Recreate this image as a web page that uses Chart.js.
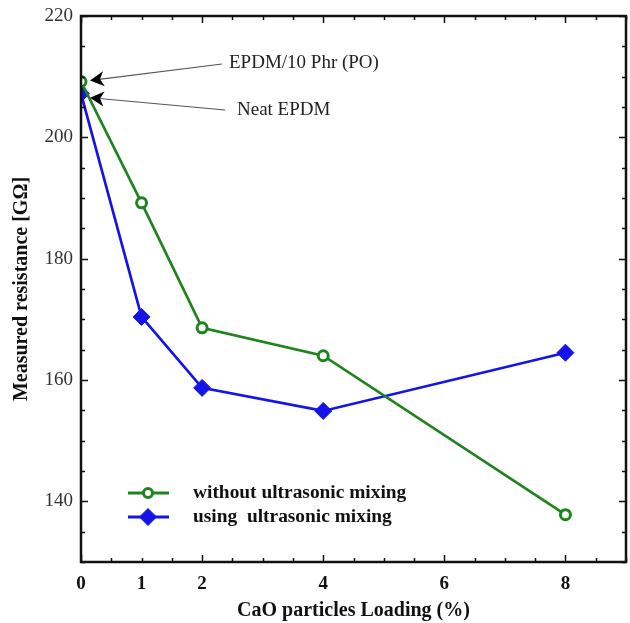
<!DOCTYPE html>
<html>
<head>
<meta charset="utf-8">
<script src="https://cdn.jsdelivr.net/npm/chart.js@4/dist/chart.umd.min.js"></script>
<style>
html,body{margin:0;padding:0;background:#fff;overflow:hidden}
#wrap{width:630px;height:623px;position:relative}
canvas{display:block}
</style>
</head>
<body>
<div id="wrap"><canvas id="c"></canvas></div>
<script>
// CaO loading (%) and measured resistance (GOhm)
const loading = [0, 1, 2, 4, 8]
const withoutUS = [209.2, 189.2, 168.6, 164.0, 137.8]
const withUS = [207.2, 170.4, 158.7, 154.9, 164.5]
const xTickVals = [0, 1, 2, 4, 6, 8]
const yTickVals = [140, 160, 180, 200, 220]
const seriesNames = ['without ultrasonic mixing', 'using  ultrasonic mixing']
const notes = [
  {text: 'EPDM/10 Phr (PO)', value: 209.2, tx: 229, ty: 63, lx: 222, ly: 64, dy: -1},
  {text: 'Neat EPDM', value: 207.2, tx: 237, ty: 110, lx: 225, ly: 110, dy: 4},
]

const SERIF = '"Liberation Serif", "DejaVu Serif", serif'
const GREEN = '#1e841e'
const BLUE = '#1414e8'

// frame + inward ticks on all four sides
const frame = {
  id: 'frame',
  afterDatasetsDraw(chart){
    const {ctx, chartArea: a, scales: {x, y}} = chart
    ctx.save()
    ctx.strokeStyle = '#111'
    ctx.lineWidth = 1.5
    for(let v = 0; v <= 9.001; v += 0.5){
      const px = Math.round(x.getPixelForValue(v)) + 0.5
      const len = (v % 2 === 0) ? 7 : 4
      ctx.beginPath()
      ctx.moveTo(px, a.bottom); ctx.lineTo(px, a.bottom - len)
      ctx.moveTo(px, a.top); ctx.lineTo(px, a.top + len)
      ctx.stroke()
    }
    for(let v = 130; v <= 220; v += 5){
      const py = Math.round(y.getPixelForValue(v)) + 0.5
      const len = (v % 20 === 0) ? 7 : 4
      ctx.beginPath()
      ctx.moveTo(a.left, py); ctx.lineTo(a.left + len, py)
      ctx.moveTo(a.right, py); ctx.lineTo(a.right - len, py)
      ctx.stroke()
    }
    ctx.lineWidth = 2.5
    ctx.strokeRect(a.left, a.top, a.right - a.left, a.bottom - a.top)
    ctx.restore()
  }
}

function arrowHead(ctx, fx, fy, tx, ty){
  const ang = Math.atan2(ty - fy, tx - fx)
  const L = 14, W = 7.5
  ctx.save()
  ctx.translate(tx, ty)
  ctx.rotate(ang)
  ctx.fillStyle = '#000'
  ctx.beginPath()
  ctx.moveTo(0, 0)
  ctx.lineTo(-L, -W)
  ctx.lineTo(-L * 0.72, 0)
  ctx.lineTo(-L, W)
  ctx.closePath()
  ctx.fill()
  ctx.restore()
}

// legend inside the plot + arrow notes
const extras = {
  id: 'extras',
  afterDraw(chart){
    const {ctx, scales: {x, y}} = chart
    ctx.save()
    // legend
    const rows = [{y: 493, i: 0}, {y: 517, i: 1}]
    rows.forEach(r => {
      const ds = chart.data.datasets[r.i]
      ctx.strokeStyle = ds.borderColor
      ctx.lineWidth = 3
      ctx.beginPath(); ctx.moveTo(128, r.y); ctx.lineTo(169, r.y); ctx.stroke()
      ctx.fillStyle = ds.pointBackgroundColor
      ctx.strokeStyle = ds.pointBorderColor
      ctx.lineWidth = ds.pointBorderWidth
      if(ds.pointStyle === 'circle'){
        ctx.beginPath(); ctx.arc(148, r.y, 4.5, 0, Math.PI * 2); ctx.fill(); ctx.stroke()
      } else {
        Chart.helpers.drawPoint(ctx, {pointStyle: ds.pointStyle, radius: 8.5, borderWidth: 1}, 148, r.y)
      }
      ctx.fillStyle = '#111'
      ctx.font = 'bold 19.4px ' + SERIF
      ctx.textBaseline = 'middle'
      ctx.textAlign = 'left'
      ctx.fillText(seriesNames[r.i], 193, r.y)
    })
    // notes with arrows to the x=0 points
    notes.forEach(n => {
      const tipX = x.getPixelForValue(0) + 9
      const tipY = y.getPixelForValue(n.value) + n.dy
      ctx.strokeStyle = '#555'
      ctx.lineWidth = 1.2
      ctx.beginPath(); ctx.moveTo(n.lx, n.ly); ctx.lineTo(tipX + 9, tipY + (n.ly - tipY) * 9 / (n.lx - tipX)); ctx.stroke()
      arrowHead(ctx, n.lx, n.ly, tipX, tipY)
      ctx.fillStyle = '#222'
      ctx.font = '19px ' + SERIF
      ctx.textBaseline = 'middle'
      ctx.textAlign = 'left'
      ctx.fillText(n.text, n.tx, n.ty)
    })
    ctx.restore()
  }
}

new Chart(document.getElementById('c'), {
  type: 'line',
  data: {
    datasets: [
      {
        label: seriesNames[0],
        data: loading.map((v, i) => ({x: v, y: withoutUS[i]})),
        borderColor: GREEN, backgroundColor: '#fff',
        borderWidth: 2.7,
        pointStyle: 'circle', pointRadius: 5, pointBorderWidth: 3,
        pointBackgroundColor: '#fff', pointBorderColor: GREEN,
      },
      {
        label: seriesNames[1],
        data: loading.map((v, i) => ({x: v, y: withUS[i]})),
        borderColor: BLUE, backgroundColor: BLUE,
        borderWidth: 2.7,
        pointStyle: 'rectRot', pointRadius: 8.5, pointBorderWidth: 1,
        pointBackgroundColor: BLUE, pointBorderColor: BLUE,
      },
    ]
  },
  options: {
    responsive: true,
    maintainAspectRatio: false,
    animation: false,
    layout: {autoPadding: false, padding: {left: 0, top: 16, right: 4, bottom: 0}},
    plugins: {legend: {display: false}, tooltip: {enabled: false}},
    scales: {
      x: {
        type: 'linear', min: 0, max: 9,
        afterBuildTicks: s => { s.ticks = xTickVals.map(v => ({value: v})) },
        afterFit: s => { s.height = 61; s.paddingLeft = 0; s.paddingRight = 0 },
        grid: {display: false, drawTicks: false},
        border: {display: false},
        ticks: {padding: 11, color: '#111', font: {family: SERIF, size: 19, weight: 'bold'}},
        title: {display: true, text: 'CaO particles Loading (%)', color: '#111',
          font: {family: SERIF, size: 20, weight: 'bold'}, padding: {top: 0, bottom: 0}}
      },
      y: {
        min: 130, max: 220,
        afterBuildTicks: s => { s.ticks = yTickVals.map(v => ({value: v})) },
        afterFit: s => { s.width = 81; s.paddingTop = 0; s.paddingBottom = 0 },
        grid: {display: false, drawTicks: false},
        border: {display: false},
        ticks: {padding: 8, color: '#333', font: {family: SERIF, size: 19}},
        title: {display: true, text: 'Measured resistance [GΩ]', color: '#111',
          font: {family: SERIF, size: 20, weight: 'bold'}, padding: {top: 10, bottom: 0}}
      }
    }
  },
  plugins: [frame, extras]
})
</script>
</body>
</html>
